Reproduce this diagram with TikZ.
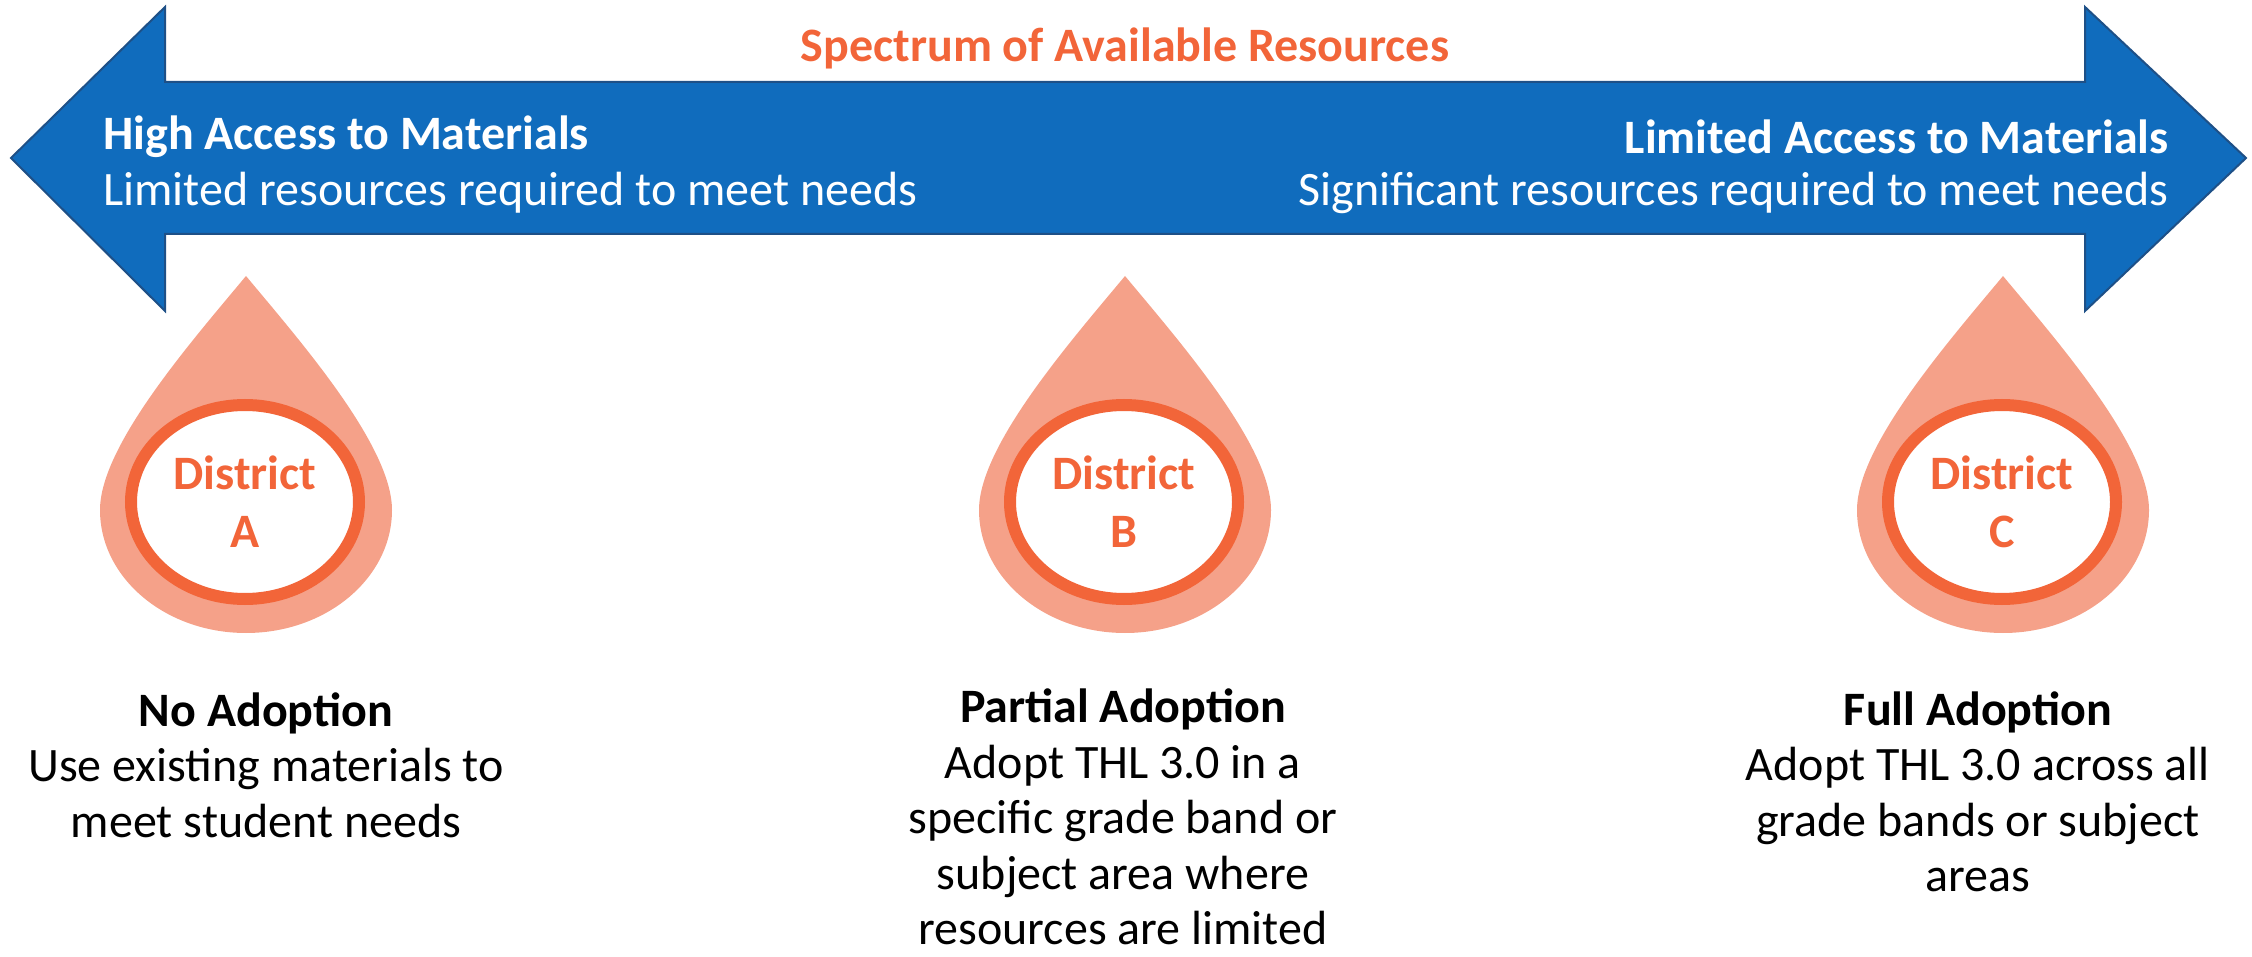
\documentclass[tikz,border=0pt]{standalone}
\usepackage{fontspec}
\setmainfont{Carlito}
\usetikzlibrary{shapes.geometric}
\definecolor{arrowblue}{RGB}{16,108,189}
\definecolor{arrowedge}{RGB}{30,80,135}
\definecolor{accent}{RGB}{242,101,57}
\definecolor{dropfill}{RGB}{245,161,137}
\tikzset{
  txt/.style={inner sep=0pt, font=\fontsize{48}{55.5}\selectfont, align=center},
  head/.style={inner sep=0pt, font=\bfseries\fontsize{48}{56}\selectfont},
  ring/.style={ellipse, draw=accent, line width=12pt, fill=white, minimum width=228pt, minimum height=194pt, inner sep=0pt, text=accent, font=\bfseries\fontsize{48}{58}\selectfont, align=center},
  dropshape/.pic={\fill[dropfill] (0,-234) .. controls (55,-168) and (146,-64) .. (146,0) arc[start angle=0, end angle=180, x radius=146, y radius=123] .. controls (-146,-64) and (-55,-168) .. (0,-234) -- cycle;}
}
\begin{document}
\begin{tikzpicture}[x=1pt,y=-1pt]
\useasboundingbox (0,0) rectangle (2252,957);
% double arrow
\draw[arrowedge, line width=2pt, fill=arrowblue, line join=miter] (11,158) -- (165,7) -- (165,82) -- (2085,82) -- (2085,7) -- (2246,158) -- (2085,311) -- (2085,234) -- (165,234) -- (165,311) -- cycle;
\node[head, text=accent] (spectrum) at (1125,48) {Spectrum of Available Resources};
\node[head, text=white, anchor=west] (hiA) at (103,137) {High Access to Materials};
\node[txt, text=white, anchor=west] (hiB) at (103,193) {Limited resources required to meet needs};
\node[head, text=white, anchor=east] (loA) at (2169,137) {Limited Access to Materials};
\node[txt, text=white, anchor=east] (loB) at (2169,193) {Significant resources required to meet needs};
% drops
\pic at (246,510) {dropshape};
\pic at (1125,510) {dropshape};
\pic at (2003,510) {dropshape};
\node[ring] (dA) at (245,502) {District\\A};
\node[ring] (dB) at (1124,502) {District\\B};
\node[ring] (dC) at (2002,502) {District\\C};
% bottom texts
\node[txt] (tA) at (266,765) {\textbf{No Adoption}\\Use existing materials to\\meet student needs};
\node[txt] (tB) at (1123,817) {\textbf{Partial Adoption}\\Adopt THL 3.0 in a\\specific grade band or\\subject area where\\resources are limited};
\node[txt] (tC) at (1978,792) {\textbf{Full Adoption}\\Adopt THL 3.0 across all\\grade bands or subject\\areas};
\end{tikzpicture}
\end{document}
